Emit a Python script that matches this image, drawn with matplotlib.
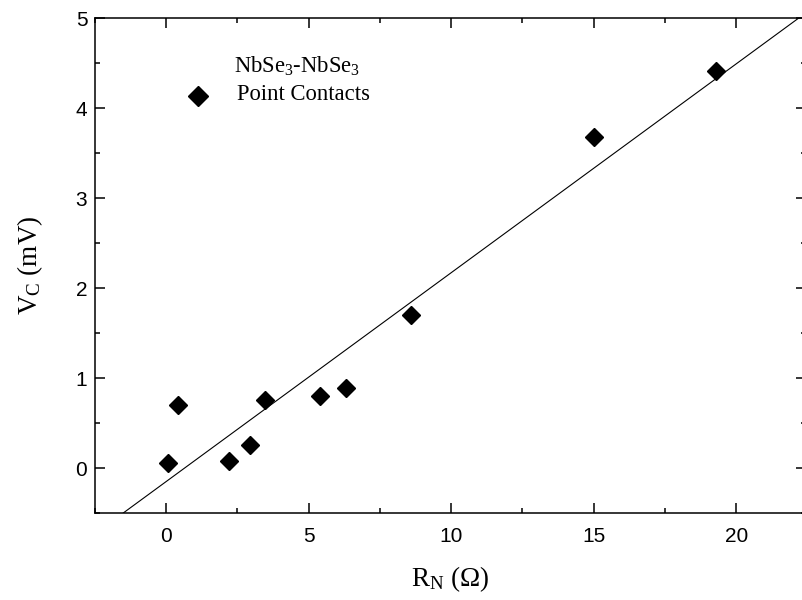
import matplotlib.pyplot as plt
from matplotlib.ticker import MultipleLocator

# datos
r_n = [0.05, 0.4, 2.2, 2.95, 3.47, 5.4, 6.3, 8.6, 15.0, 19.3]
v_c = [0.06, 0.70, 0.08, 0.26, 0.76, 0.80, 0.89, 1.70, 3.68, 4.41]

# recta de ajuste
pendiente = 0.232
intercepto = -0.15

plt.rcParams['mathtext.fontset'] = 'custom'
plt.rcParams['mathtext.rm'] = 'Liberation Serif'

fig = plt.figure(figsize=(8.03, 6.0), dpi=100)
ax = fig.add_axes([0.1183, 0.145, 0.8854, 0.825])

ax.plot(r_n, v_c, linestyle='none', marker='D', markersize=9.5, color='black')
ax.axline((0, intercepto), slope=pendiente, color='black', linewidth=0.8)

ax.set_xlim(-2.5, 22.45)
ax.set_ylim(-0.5, 5)

ax.xaxis.set_major_locator(MultipleLocator(5))
ax.xaxis.set_minor_locator(MultipleLocator(2.5))
ax.yaxis.set_major_locator(MultipleLocator(1))
ax.yaxis.set_minor_locator(MultipleLocator(0.5))

ax.tick_params(which='both', direction='in', top=True, right=True, width=1.1)
ax.tick_params(which='major', length=7, labelsize=15)
ax.tick_params(axis='x', which='major', pad=10)
ax.tick_params(axis='y', which='major', pad=5.5)
ax.tick_params(which='minor', length=3.5)
for lab in ax.get_xticklabels() + ax.get_yticklabels():
    lab.set_family('Liberation Sans')
for sp in ax.spines.values():
    sp.set_linewidth(1.1)

ax.set_xlabel(r'R$\mathregular{_N}$ ($\Omega$)', family='Liberation Serif', fontsize=19.5, labelpad=13)
ax.set_ylabel(r'V$\mathregular{_C}$ (mV)', family='Liberation Serif', fontsize=19.5, labelpad=22)

# leyenda hecha a mano
ax.plot([1.1], [4.13], linestyle='none', marker='D', markersize=10, color='black')
ax.text(4.6, 4.39, r'NbSe$\mathregular{_3}$-NbSe$\mathregular{_3}$', family='Liberation Serif',
        fontsize=16.3, ha='center', va='baseline')
ax.text(2.5, 4.09, 'Point Contacts', family='Liberation Serif', fontsize=16.3, ha='left', va='baseline')

fig.savefig('out.png', dpi=100)
